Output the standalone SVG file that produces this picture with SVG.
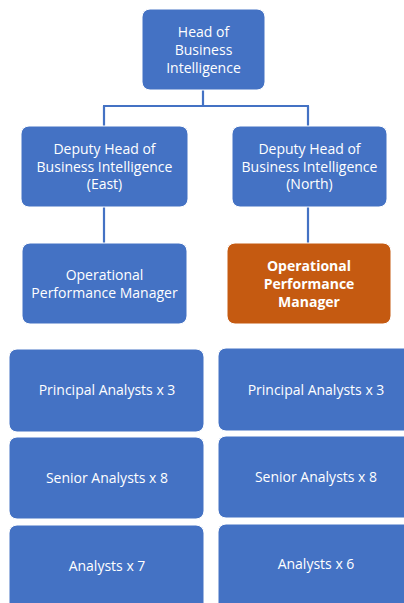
<svg xmlns="http://www.w3.org/2000/svg" width="404" height="603" viewBox="0 0 404 603">
  <style>
    .box { fill: #4472C4; stroke: #ffffff; stroke-width: 1; }
    .hl { fill: #C55A11; stroke: #ffffff; stroke-width: 1; }
    .lbl { font-family: "Open Sans", "Liberation Sans", Arial, sans-serif; font-size: 14px; fill: #ffffff; text-anchor: middle; }
    .bold { font-weight: bold; }
    .conn { stroke: #4472C4; stroke-width: 2.2; fill: none; }
  </style>
  <rect width="404" height="603" fill="#ffffff"/>

  <g id="connectors">
    <path class="conn" d="M203,90 V106 M103,106 H309 M104,106 V126 M308,106 V126"/>
    <path class="conn" d="M104,207 V243 M308,207 V243"/>
  </g>

  <g id="head">
    <rect class="box" x="142" y="9" width="123" height="81" rx="8"/>
    <text class="lbl" x="203.5" y="37">Head of</text>
    <text class="lbl" x="203.5" y="54.5">Business</text>
    <text class="lbl" x="203.5" y="72.5">Intelligence</text>
  </g>

  <g id="deputy-east">
    <rect class="box" x="21" y="126" width="167" height="81" rx="8"/>
    <text class="lbl" x="104.5" y="154">Deputy Head of</text>
    <text class="lbl" x="104.5" y="171.5">Business Intelligence</text>
    <text class="lbl" x="104.5" y="189">(East)</text>
  </g>

  <g id="deputy-north">
    <rect class="box" x="232" y="126" width="155" height="81" rx="8"/>
    <text class="lbl" x="309.5" y="154">Deputy Head of</text>
    <text class="lbl" x="309.5" y="171.5">Business Intelligence</text>
    <text class="lbl" x="309.5" y="189">(North)</text>
  </g>

  <g id="opm-east">
    <rect class="box" x="22" y="243" width="165" height="81" rx="8"/>
    <text class="lbl" x="104.5" y="280">Operational</text>
    <text class="lbl" x="104.5" y="297.5">Performance Manager</text>
  </g>

  <g id="opm-north">
    <rect class="hl" x="227" y="243" width="164" height="81" rx="8"/>
    <text class="lbl bold" x="309" y="271">Operational</text>
    <text class="lbl bold" x="309" y="288.5">Performance</text>
    <text class="lbl bold" x="309" y="306.5">Manager</text>
  </g>

  <g id="principal-east">
    <rect class="box" x="9" y="349" width="195" height="83" rx="8"/>
    <text class="lbl" x="107" y="395">Principal Analysts x 3</text>
  </g>

  <g id="principal-north">
    <rect class="box" x="218" y="348" width="200" height="83" rx="8"/>
    <text class="lbl" x="316" y="394.5">Principal Analysts x 3</text>
  </g>

  <g id="senior-east">
    <rect class="box" x="9" y="437" width="195" height="82" rx="8"/>
    <text class="lbl" x="107" y="483">Senior Analysts x 8</text>
  </g>

  <g id="senior-north">
    <rect class="box" x="218" y="436" width="200" height="82" rx="8"/>
    <text class="lbl" x="316" y="482">Senior Analysts x 8</text>
  </g>

  <g id="analysts-east">
    <rect class="box" x="9" y="525" width="195" height="90" rx="8"/>
    <text class="lbl" x="107" y="570.5">Analysts x 7</text>
  </g>

  <g id="analysts-north">
    <rect class="box" x="218" y="524" width="200" height="90" rx="8"/>
    <text class="lbl" x="316" y="569">Analysts x 6</text>
  </g>
</svg>
